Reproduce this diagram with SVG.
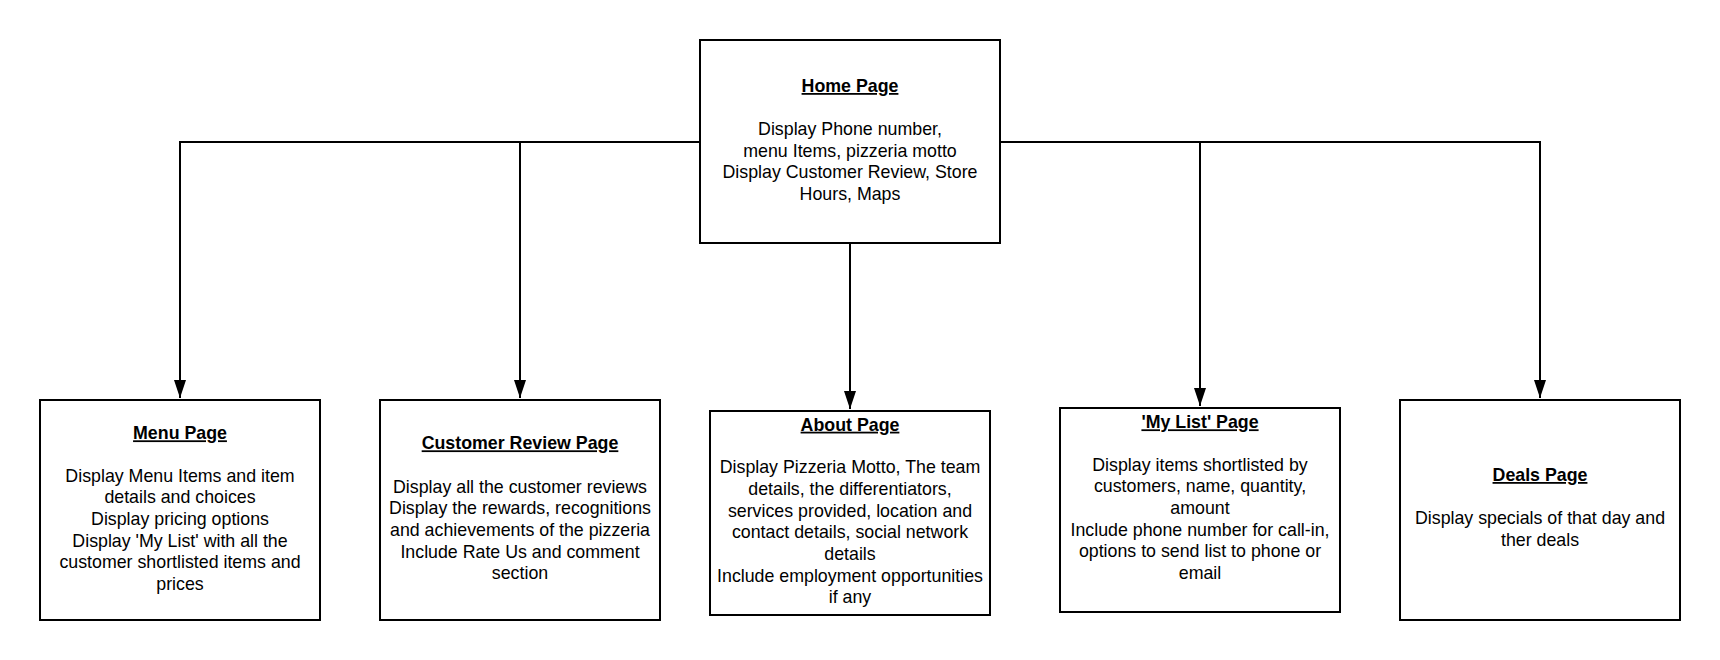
<svg xmlns="http://www.w3.org/2000/svg" width="1720" height="660" viewBox="0 0 1720 660">
<defs>
<style>
.box{fill:#fff;stroke:#000;stroke-width:2}
.t{font-family:"Liberation Sans",Arial,sans-serif;font-size:17.8px;fill:#000;text-anchor:middle}
.h{font-weight:bold;text-decoration:underline}
.c{fill:none;stroke:#000;stroke-width:2}
</style>
<marker id="ad" markerUnits="userSpaceOnUse" markerWidth="12" markerHeight="18" viewBox="0 0 12 18" refX="6" refY="18" orient="0">
<path d="M0,0 L12,0 L6,18 Z" fill="#000"/>
</marker>
</defs>
<rect width="1720" height="660" fill="#fff"/>
<g id="connectors">
<path class="c" d="M700,142 H180 V398" marker-end="url(#ad)"/>
<path class="c" d="M520,142 V398" marker-end="url(#ad)"/>
<path class="c" d="M850,243 V409" marker-end="url(#ad)"/>
<path class="c" d="M1000,142 H1540 V398" marker-end="url(#ad)"/>
<path class="c" d="M1200,142 V406" marker-end="url(#ad)"/>
</g>
<g id="home">
<rect class="box" x="700" y="40" width="300" height="203"/>
<text class="t h" x="850" y="92">Home Page</text>
<text class="t" x="850" y="135">Display Phone number,</text>
<text class="t" x="850" y="156.7">menu Items, pizzeria motto</text>
<text class="t" x="850" y="178.3">Display Customer Review, Store</text>
<text class="t" x="850" y="200">Hours, Maps</text>
</g>
<g id="menu">
<rect class="box" x="40" y="400" width="280" height="220"/>
<text class="t h" x="180" y="439.3">Menu Page</text>
<text class="t" x="180" y="481.7">Display Menu Items and item</text>
<text class="t" x="180" y="503.3">details and choices</text>
<text class="t" x="180" y="525">Display pricing options</text>
<text class="t" x="180" y="546.7">Display 'My List' with all the</text>
<text class="t" x="180" y="568.3">customer shortlisted items and</text>
<text class="t" x="180" y="590">prices</text>
</g>
<g id="review">
<rect class="box" x="380" y="400" width="280" height="220"/>
<text class="t h" x="520" y="449.3">Customer Review Page</text>
<text class="t" x="520" y="492.7">Display all the customer reviews</text>
<text class="t" x="520" y="514.3">Display the rewards, recognitions</text>
<text class="t" x="520" y="536">and achievements of the pizzeria</text>
<text class="t" x="520" y="557.7">Include Rate Us and comment</text>
<text class="t" x="520" y="579.3">section</text>
</g>
<g id="about">
<rect class="box" x="710" y="411" width="280" height="204"/>
<text class="t h" x="850" y="430.7">About Page</text>
<text class="t" x="850" y="473.3">Display Pizzeria Motto, The team</text>
<text class="t" x="850" y="495">details, the differentiators,</text>
<text class="t" x="850" y="516.7">services provided, location and</text>
<text class="t" x="850" y="538.3">contact details, social network</text>
<text class="t" x="850" y="560">details</text>
<text class="t" x="850" y="581.7">Include employment opportunities</text>
<text class="t" x="850" y="603.3">if any</text>
</g>
<g id="mylist">
<rect class="box" x="1060" y="408" width="280" height="204"/>
<text class="t h" x="1200" y="428.3">'My List' Page</text>
<text class="t" x="1200" y="470.7">Display items shortlisted by</text>
<text class="t" x="1200" y="492.3">customers, name, quantity,</text>
<text class="t" x="1200" y="514">amount</text>
<text class="t" x="1200" y="535.7">Include phone number for call-in,</text>
<text class="t" x="1200" y="557.3">options to send list to phone or</text>
<text class="t" x="1200" y="579">email</text>
</g>
<g id="deals">
<rect class="box" x="1400" y="400" width="280" height="220"/>
<text class="t h" x="1540" y="481">Deals Page</text>
<text class="t" x="1540" y="524.3">Display specials of that day and</text>
<text class="t" x="1540" y="546">ther deals</text>
</g>
</svg>
